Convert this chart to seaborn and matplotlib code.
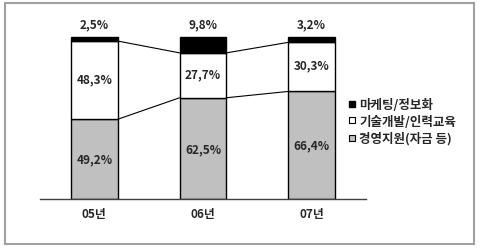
import matplotlib
matplotlib.use("Agg")
import matplotlib.pyplot as plt
import seaborn as sns
import pandas as pd
import numpy as np
from matplotlib.patches import Rectangle
from matplotlib.lines import Line2D

years = ["05년", "06년", "07년"]
series_names = ["마케팅/정보화", "기술개발/인력교육", "경영지원(자금 등)"]
marketing = [2.5, 9.8, 3.2]
tech = [48.3, 27.7, 30.3]
mgmt = [49.2, 62.5, 66.4]

sns.set_style("white")
plt.rcParams['font.family'] = ['Noto Sans CJK KR', 'DejaVu Sans']
plt.rcParams['font.weight'] = 'bold'

fig = plt.figure(figsize=(4.8, 2.53), dpi=100)
fig.patch.set_facecolor("white")
fig.patches.append(Rectangle((4.5/480, 8/253), 469/480, 241/253, transform=fig.transFigure,
                             fill=False, edgecolor="#a0a0a0", linewidth=1.5))

ax = fig.add_axes([40/480, 53/253, 326/480, 185/253])
df = pd.DataFrame({"year": years, "mk": marketing, "tech": tech, "mgmt": mgmt})
W = 0.43
gray = "#c0c0c0"
bot_tech = np.array(mgmt)
bot_mk = np.array(mgmt) + np.array(tech)
sns.barplot(data=df, x="year", y="mgmt", color=gray, edgecolor="black", linewidth=1.0,
            width=W, ax=ax, saturation=1)
sns.barplot(data=df, x="year", y="tech", color="white", edgecolor="black", linewidth=1.0,
            width=W, ax=ax, bottom=bot_tech, saturation=1)
sns.barplot(data=df, x="year", y="mk", color="black", edgecolor="black", linewidth=1.0,
            width=W, ax=ax, bottom=bot_mk, saturation=1)

# connecting lines
for i in range(len(years) - 1):
    for cum in (bot_tech, bot_mk):
        ax.plot([i + W/2, i + 1 - W/2], [cum[i], cum[i+1]], color="black", lw=0.8)

fs = 8.5
for i in range(len(years)):
    ax.text(i, mgmt[i] / 2, f"{mgmt[i]:.1f}%".replace(".", ","), ha="center", va="center",
            fontsize=fs, fontweight="bold")
    ax.text(i, bot_tech[i] + tech[i] / 2 + 1, f"{tech[i]:.1f}%".replace(".", ","), ha="center",
            va="center", fontsize=fs, fontweight="bold")
    ax.text(i, 108, f"{marketing[i]:.1f}%".replace(".", ","), ha="center", va="center",
            fontsize=fs, fontweight="bold")

ax.set_xlim(-0.5, 2.5)
ax.set_ylim(0, 185/162*100)
for s in ["top", "right", "left"]:
    ax.spines[s].set_visible(False)
ax.spines["bottom"].set_color("#404040")
ax.spines["bottom"].set_linewidth(1.0)
ax.set_yticks([])
ax.set_xticks([0, 1, 2])
ax.set_xticklabels(years, fontsize=8.5, fontweight="bold")
ax.set_xticks([-0.5, 0.5, 1.5, 2.5], minor=True)
ax.tick_params(axis="x", which="major", length=0, pad=6)
ax.tick_params(axis="x", which="minor", length=7, direction="inout", color="#404040", width=1)
ax.set_xlabel("")
ax.set_ylabel("")
ax.patch.set_alpha(0)

handles = [
    Line2D([], [], marker="s", linestyle="", markerfacecolor="black", markeredgecolor="black", markersize=5),
    Line2D([], [], marker="s", linestyle="", markerfacecolor="white", markeredgecolor="black", markersize=5, markeredgewidth=0.8),
    Line2D([], [], marker="s", linestyle="", markerfacecolor=gray, markeredgecolor="black", markersize=5, markeredgewidth=0.8),
]
fig.legend(handles, series_names, loc="upper left", bbox_to_anchor=(348/480, 1 - 99/253),
           frameon=False, handlelength=0.6, handletextpad=0.3, labelspacing=0.3,
           borderpad=0, borderaxespad=0, prop={'weight': 'bold', 'size': 9})

fig.savefig("out.png", dpi=100)
